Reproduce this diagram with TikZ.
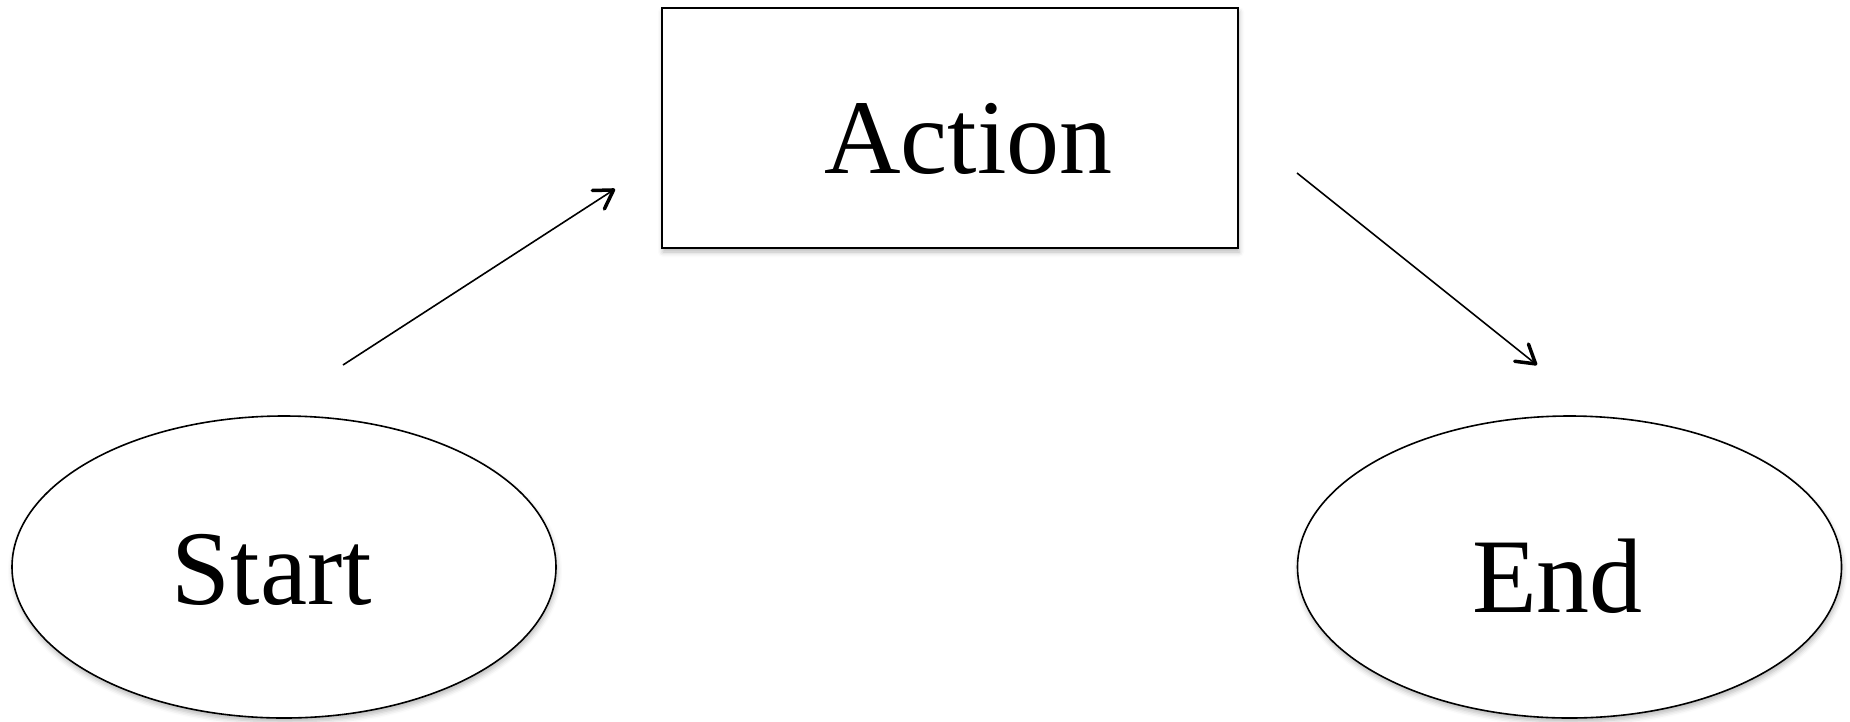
\documentclass[tikz,border=0pt]{standalone}
\usepackage{fontspec}
\setmainfont{Liberation Serif}
\usetikzlibrary{arrows.meta,shapes.geometric,shadows.blur}

\tikzset{
  shade/.style={blur shadow={shadow xshift=1pt, shadow yshift=-4pt,
      shadow blur radius=5pt, shadow opacity=28}},
  actionbox/.style={draw, line width=2pt, fill=white, shade,
      minimum width=576pt, minimum height=240pt, inner sep=0pt},
  terminal/.style={ellipse, draw, line width=1.6pt, fill=white, shade,
      minimum width=544pt, minimum height=302pt, inner sep=0pt},
  lbl/.style={anchor=base west, inner sep=0pt,
      font=\fontsize{106}{120}\selectfont},
  flow/.style={line width=1.6pt,
      -{Straight Barb[length=18pt, width=22pt, line width=3.5pt, round]}}
}

\begin{document}
\begin{tikzpicture}[x=1pt, y=-1pt]
  \useasboundingbox (0,0) rectangle (1850,721);

  % shapes
  \node[actionbox] (action) at (950,128) {};
  \node[terminal] (start) at (284,567) {};
  \node[terminal] (end) at (1569.5,567) {};

  % labels
  \node[lbl] (actiontext) at (824,173) {Action};
  \node[lbl] (starttext) at (171.5,604) {Start};
  \node[lbl] (endtext) at (1472,612) {End};

  % free-floating connector ends
  \coordinate (s1) at (343,365);
  \coordinate (t1) at (615,189);
  \coordinate (s2) at (1297,173);
  \coordinate (t2) at (1537,365);

  \draw[flow] (s1) -- (t1);
  \draw[flow] (s2) -- (t2);
\end{tikzpicture}
\end{document}
